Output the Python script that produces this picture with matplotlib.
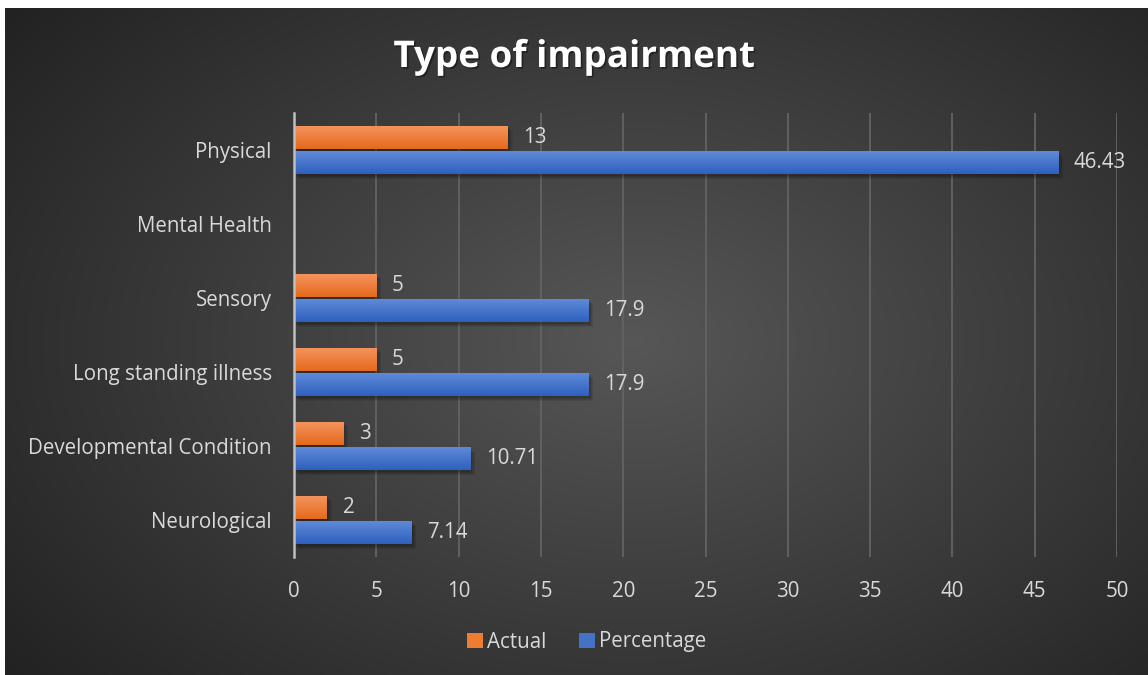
import numpy as np
import matplotlib
matplotlib.use("Agg")
import matplotlib.pyplot as plt
import matplotlib.patheffects as pe
from matplotlib.patches import Patch

# datos
categorias = ['Neurological', 'Developmental Condition', 'Long standing illness',
              'Sensory', 'Mental Health', 'Physical']
actual = [2, 3, 5, 5, None, 13]
porcentaje = [7.14, 10.71, 17.9, 17.9, None, 46.43]
ticks_x = [0, 5, 10, 15, 20, 25, 30, 35, 40, 45, 50]

plt.rcParams['font.family'] = ['Open Sans', 'DejaVu Sans']

naranja = ('#F4935C', '#E56A1C')
azul = ('#5E8AD8', '#2F60BE')
gris_texto = '#D9D9D9'
tam = 14.8

fig = plt.figure(figsize=(11.48, 6.75), dpi=100)
fig.patch.set_facecolor('white')

# fondo con degradado radial
fondo = fig.add_axes([5 / 1148, 0, 1 - 5 / 1148, 1 - 8 / 675], zorder=-5)
yy, xx = np.mgrid[0:1:300j, 0:1:500j]
dist = np.sqrt(((xx - 0.55) / 0.75) ** 2 + ((yy - 0.5) / 0.85) ** 2)
nivel = np.clip(0.34 - 0.22 * dist, 0.13, 0.35)
fondo.imshow(np.dstack([nivel] * 3), aspect='auto', extent=[0, 1, 0, 1],
             interpolation='bicubic')
fondo.axis('off')

ax = fig.add_axes([294 / 1148, 1 - 557 / 675, (1117 - 294) / 1148, (557 - 113) / 675])
ax.patch.set_alpha(0)

y = np.arange(len(categorias))
alto = 0.31
desp = 0.175

# sombra suave: varias capas desplazadas con poca opacidad
sombra = [pe.SimplePatchShadow(offset=(o, -o), alpha=0.09, shadow_rgbFace='black')
          for o in (3.5, 2.5, 1.5, 0.8)] + [pe.Normal()]


def barra_degradado(yc, valor, colores):
    b = ax.barh(yc, valor, height=alto, color=colores[1], zorder=3,
                path_effects=sombra)
    c1 = np.array(matplotlib.colors.to_rgb(colores[0]))
    c2 = np.array(matplotlib.colors.to_rgb(colores[1]))
    t = np.linspace(0, 1, 50)[:, None]
    grad = (c1 * (1 - t) + c2 * t)[:, None, :]
    ax.imshow(grad, aspect='auto', extent=[0, valor, yc - alto / 2, yc + alto / 2],
              origin='upper', zorder=4, interpolation='bilinear')
    ax.text(valor + 0.95, yc, f'{valor:g}', va='center', ha='left',
            color=gris_texto, fontsize=tam, zorder=5)
    return b


for i in range(len(categorias)):
    if actual[i] is not None:
        barra_degradado(y[i] + desp, actual[i], naranja)
    if porcentaje[i] is not None:
        barra_degradado(y[i] - desp, porcentaje[i], azul)

ax.set_xlim(0, 50)
ax.set_ylim(-0.5, len(categorias) - 0.5)
ax.set_xticks(ticks_x)
ax.set_yticks(y)
ax.set_yticklabels(categorias)
ax.tick_params(axis='both', length=0, colors=gris_texto, labelsize=tam)
ax.tick_params(axis='x', pad=17)
ax.tick_params(axis='y', pad=16)
ax.grid(axis='x', color='#636363', linewidth=1.3, zorder=0)
ax.set_axisbelow(True)
for lado in ['top', 'right', 'bottom']:
    ax.spines[lado].set_visible(False)
ax.spines['left'].set_color('#BFBFBF')
ax.spines['left'].set_linewidth(1.8)
ax.spines['left'].set_zorder(6)

fig.text(0.5, 1 - 67 / 675, 'Type of impairment', ha='center', va='baseline',
         color='white', fontsize=26.5, fontweight='bold',
         path_effects=[pe.withSimplePatchShadow(offset=(1.2, -1.2), alpha=0.4,
                                                shadow_rgbFace='black')])

manijas = [Patch(facecolor='#ED7D31', label='Actual'),
           Patch(facecolor='#4472C4', label='Percentage')]
fig.legend(handles=manijas, loc='center', bbox_to_anchor=(0.511, 1 - 642 / 675),
           ncol=2, frameon=False, fontsize=tam, labelcolor=gris_texto,
           handlelength=0.75, handleheight=0.75, handletextpad=0.2, columnspacing=1.6)

fig.savefig('out.png', dpi=100, facecolor=fig.get_facecolor())
